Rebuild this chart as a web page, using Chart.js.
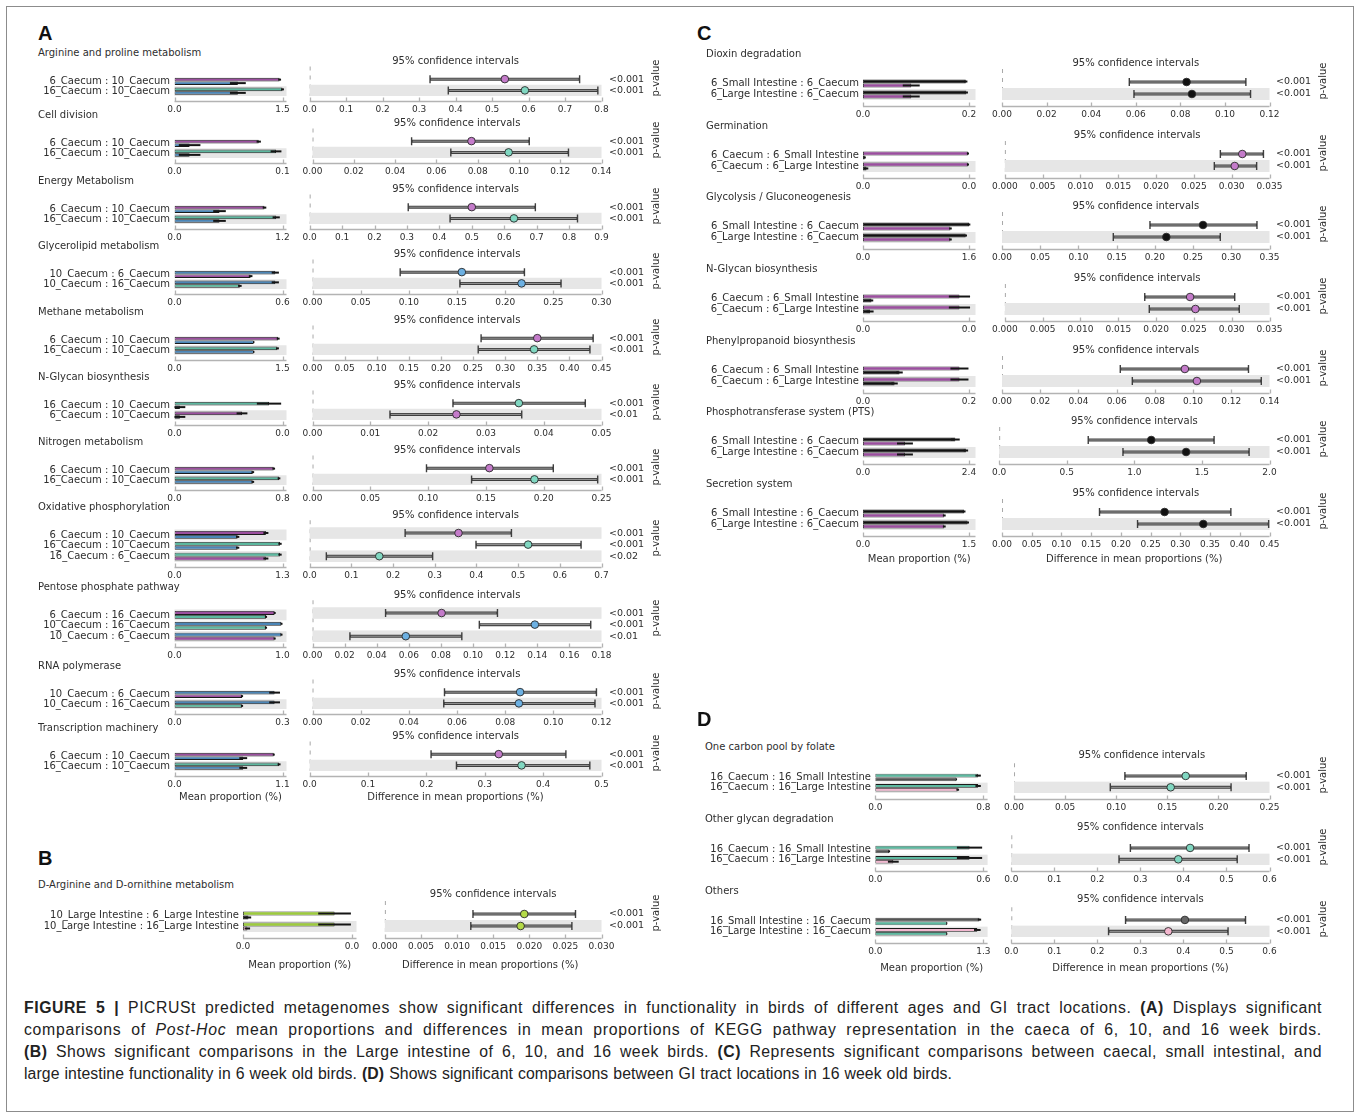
<!DOCTYPE html>
<html>
<head>
<meta charset="utf-8">
<script src="https://cdn.jsdelivr.net/npm/chart.js@4.4.1/dist/chart.umd.min.js"></script>
<style>
  body { margin: 0; background: #fff; }
  #fig { position: relative; width: 1360px; height: 1118px; overflow: hidden; font-family: "DejaVu Sans", sans-serif; color: #2e2e2e; }
  #fig canvas { position: absolute; }
  .t { position: absolute; white-space: nowrap; line-height: 14px; }
  .sub { font-size: 10px; }
  .letter { font-family: "Liberation Sans Narrow", "Liberation Sans", sans-serif; font-weight: bold; font-size: 20px; color: #111; line-height: 20px; }
  .axname { font-size: 10px; transform: translateX(-50%); }
  .pv { font-size: 10px; transform: translate(-50%, -50%) rotate(-90deg); }
  #frame { position: absolute; left: 6px; top: 6px; width: 1346px; height: 1104px; border: 1.5px solid #8c8c8c; }
  .cap { position: absolute; left: 24px; font-family: "Liberation Sans", sans-serif; font-size: 15.8px; line-height: 22px; color: #222; white-space: nowrap; }
</style>
</head>
<body>
<div id="fig">
  <div id="frame"></div>
  <div class="cap" data-w="1298" style="top:997px"><b>FIGURE 5 |</b> PICRUSt predicted metagenomes show significant differences in functionality in birds of different ages and GI tract locations. <b>(A)</b> Displays significant</div>
  <div class="cap" data-w="1298" style="top:1019px">comparisons of <i>Post-Hoc</i> mean proportions and differences in mean proportions of KEGG pathway representation in the caeca of 6, 10, and 16 week birds.</div>
  <div class="cap" data-w="1298" style="top:1041px"><b>(B)</b> Shows significant comparisons in the Large intestine of 6, 10, and 16 week birds. <b>(C)</b> Represents significant comparisons between caecal, small intestinal, and</div>
  <div class="cap" data-w="928" style="top:1063px">large intestine functionality in 6 week old birds. <b>(D)</b> Shows significant comparisons between GI tract locations in 16 week old birds.</div>
</div>
<script>
// ---------- A: caeca of 6, 10 and 16 week birds ----------
const A_TITLES = ['Arginine and proline metabolism', 'Cell division', 'Energy Metabolism', 'Glycerolipid metabolism',
  'Methane metabolism', 'N-Glycan biosynthesis', 'Nitrogen metabolism', 'Oxidative phosphorylation',
  'Pentose phosphate pathway', 'RNA polymerase', 'Transcription machinery'];
const A_ROWS = [
  ['6_Caecum : 10_Caecum', '16_Caecum : 10_Caecum'],
  ['6_Caecum : 10_Caecum', '16_Caecum : 10_Caecum'],
  ['6_Caecum : 10_Caecum', '16_Caecum : 10_Caecum'],
  ['10_Caecum : 6_Caecum', '10_Caecum : 16_Caecum'],
  ['6_Caecum : 10_Caecum', '16_Caecum : 10_Caecum'],
  ['16_Caecum : 10_Caecum', '6_Caecum : 10_Caecum'],
  ['6_Caecum : 10_Caecum', '16_Caecum : 10_Caecum'],
  ['6_Caecum : 10_Caecum', '16_Caecum : 10_Caecum', '16_Caecum : 6_Caecum'],
  ['6_Caecum : 16_Caecum', '10_Caecum : 16_Caecum', '10_Caecum : 6_Caecum'],
  ['10_Caecum : 6_Caecum', '10_Caecum : 16_Caecum'],
  ['6_Caecum : 10_Caecum', '16_Caecum : 10_Caecum']
];
// mean proportion (%) and sd of the first and second group of each comparison
const A_MEAN1 = [[1.46, 1.5], [0.078, 0.094], [1.0, 1.13], [0.56, 0.56], [1.44, 1.43], [0.035, 0.025],
  [0.735, 0.774], [1.1, 1.27, 1.27], [0.927, 0.99, 0.99], [0.278, 0.278], [1.011, 1.065]];
const A_SD1 = [[0.02, 0.02], [0.002, 0.005], [0.02, 0.04], [0.02, 0.02], [0.02, 0.02], [0.0045, 0.002],
  [0.01, 0.01], [0.03, 0.02, 0.02], [0.01, 0.01, 0.01], [0.015, 0.015], [0.01, 0.015]];
const A_MEAN2 = [[0.88, 0.88], [0.014, 0.014], [0.5, 0.5], [0.423, 0.363], [1.1, 1.1], [0.002, 0.002],
  [0.58, 0.58], [0.76, 0.76, 1.1], [0.847, 0.847, 0.927], [0.1875, 0.1875], [0.70, 0.70]];
const A_SD2 = [[0.11, 0.11], [0.01, 0.01], [0.07, 0.07], [0.01, 0.01], [0.01, 0.01], [0.002, 0.002],
  [0.01, 0.01], [0.02, 0.02, 0.03], [0.01, 0.01, 0.01], [0.003, 0.003], [0.04, 0.04]];
// difference in mean proportions with 95% confidence interval
const A_DIFF = [[0.535, 0.59], [0.077, 0.095], [0.5, 0.63], [0.155, 0.217], [0.35, 0.345], [0.0357, 0.0249],
  [0.153, 0.192], [0.357, 0.524, 0.167], [0.0804, 0.1385, 0.0581], [0.0862, 0.0857], [0.324, 0.363]];
const A_LO = [[0.33, 0.38], [0.048, 0.067], [0.304, 0.433], [0.091, 0.153], [0.2625, 0.258], [0.0243, 0.0134],
  [0.0986, 0.1376], [0.229, 0.399, 0.04], [0.0455, 0.1039, 0.0233], [0.0548, 0.0545], [0.208, 0.2515]];
const A_HI = [[0.74, 0.79], [0.105, 0.124], [0.696, 0.826], [0.22, 0.258], [0.437, 0.432], [0.0472, 0.0362],
  [0.2083, 0.2467], [0.484, 0.651, 0.295], [0.1152, 0.1733, 0.093], [0.1179, 0.1173], [0.439, 0.48]];
const A_P = [['<0.001', '<0.001'], ['<0.001', '<0.001'], ['<0.001', '<0.001'], ['<0.001', '<0.001'],
  ['<0.001', '<0.001'], ['<0.001', '<0.01'], ['<0.001', '<0.001'], ['<0.001', '<0.001', '<0.02'],
  ['<0.001', '<0.001', '<0.01'], ['<0.001', '<0.001'], ['<0.001', '<0.001']];
const A_BAR_TICK = [1.5, 0.1, 1.2, 0.6, 1.5, 0.04, 0.8, 1.3, 1.0, 0.3, 1.1];
const A_CI_MAX = [0.8, 0.14, 0.9, 0.3, 0.45, 0.05, 0.25, 0.7, 0.18, 0.12, 0.5];
const A_CI_STEP = [0.1, 0.02, 0.1, 0.05, 0.05, 0.01, 0.05, 0.1, 0.02, 0.02, 0.1];

// ---------- B: large intestine ----------
const B_TITLES = ['D-Arginine and D-ornithine metabolism'];
const B_ROWS = [['10_Large Intestine : 6_Large Intestine', '10_Large Intestine : 16_Large Intestine']];
const B_MEAN1 = [[0.0168, 0.0168]];
const B_SD1 = [[0.003, 0.003]];
const B_MEAN2 = [[0.001, 0.0008]];
const B_SD2 = [[0.0005, 0.0005]];
const B_DIFF = [[0.0193, 0.0188]];
const B_LO = [[0.0122, 0.0119]];
const B_HI = [[0.0264, 0.0259]];
const B_P = [['<0.001', '<0.001']];
const B_BAR_TICK = [0.02];
const B_CI_MAX = [0.03];
const B_CI_STEP = [0.005];

// ---------- C: 6 week birds, caecum vs small / large intestine ----------
const C_TITLES = ['Dioxin degradation', 'Germination', 'Glycolysis / Gluconeogenesis', 'N-Glycan biosynthesis',
  'Phenylpropanoid biosynthesis', 'Phosphotransferase system (PTS)', 'Secretion system'];
const C_ROWS = [
  ['6_Small Intestine : 6_Caecum', '6_Large Intestine : 6_Caecum'],
  ['6_Caecum : 6_Small Intestine', '6_Caecum : 6_Large Intestine'],
  ['6_Small Intestine : 6_Caecum', '6_Large Intestine : 6_Caecum'],
  ['6_Caecum : 6_Small Intestine', '6_Caecum : 6_Large Intestine'],
  ['6_Caecum : 6_Small Intestine', '6_Caecum : 6_Large Intestine'],
  ['6_Small Intestine : 6_Caecum', '6_Large Intestine : 6_Caecum'],
  ['6_Small Intestine : 6_Caecum', '6_Large Intestine : 6_Caecum']
];
const C_MEAN1 = [[0.194, 0.195], [0.0297, 0.0297], [1.6, 1.55], [0.0273, 0.0273], [0.182, 0.182], [2.09, 2.33], [1.43, 1.48]];
const C_SD1 = [[0.003, 0.003], [0.0003, 0.0003], [0.02, 0.02], [0.003, 0.003], [0.017, 0.017], [0.1, 0.05], [0.02, 0.02]];
const C_MEAN2 = [[0.091, 0.091], [0.0005, 0.001], [1.32, 1.32], [0.0024, 0.002], [0.069, 0.0596], [0.95, 0.95], [1.15, 1.15]];
const C_SD2 = [[0.016, 0.016], [0.0003, 0.0005], [0.02, 0.02], [0.0005, 0.001], [0.006, 0.006], [0.18, 0.18], [0.02, 0.02]];
const C_DIFF = [[0.0828, 0.0852], [0.0314, 0.0304], [0.263, 0.215], [0.0245, 0.0252], [0.0957, 0.102], [1.125, 1.383], [0.2735, 0.3386]];
const C_LO = [[0.0571, 0.0592], [0.0285, 0.0277], [0.1936, 0.1456], [0.0185, 0.0191], [0.0619, 0.0682], [0.659, 0.916], [0.164, 0.228]];
const C_HI = [[0.1094, 0.1115], [0.0342, 0.0333], [0.3336, 0.2856], [0.0304, 0.031], [0.129, 0.1357], [1.59, 1.849], [0.385, 0.4486]];
const C_P = C_ROWS.map(r => r.map(() => '<0.001'));
const C_BAR_TICK = [0.2, 0.03, 1.6, 0.03, 0.2, 2.4, 1.5];
const C_CI_MAX = [0.12, 0.035, 0.35, 0.035, 0.14, 2.0, 0.45];
const C_CI_STEP = [0.02, 0.005, 0.05, 0.005, 0.02, 0.5, 0.05];

// ---------- D: 16 week birds, GI tract locations ----------
const D_TITLES = ['One carbon pool by folate', 'Other glycan degradation', 'Others'];
const D_ROWS = [
  ['16_Caecum : 16_Small Intestine', '16_Caecum : 16_Large Intestine'],
  ['16_Caecum : 16_Small Intestine', '16_Caecum : 16_Large Intestine'],
  ['16_Small Intestine : 16_Caecum', '16_Large Intestine : 16_Caecum']
];
const D_MEAN1 = [[0.761, 0.761], [0.523, 0.523], [1.253, 1.227]];
const D_SD1 = [[0.02, 0.02], [0.07, 0.07], [0.02, 0.04]];
const D_MEAN2 = [[0.6, 0.61], [0.077, 0.1], [0.861, 0.861]];
const D_SD2 = [[0.005, 0.01], [0.005, 0.03], [0.005, 0.005]];
const D_DIFF = [[0.168, 0.1533], [0.4155, 0.388], [0.4034, 0.3649]];
const D_LO = [[0.1085, 0.0942], [0.2767, 0.2503], [0.2655, 0.226]];
const D_HI = [[0.2272, 0.2124], [0.5524, 0.525], [0.5443, 0.5037]];
const D_P = D_ROWS.map(r => r.map(() => '<0.001'));
const D_BAR_TICK = [0.8, 0.6, 1.3];
const D_CI_MAX = [0.25, 0.6, 0.6];
const D_CI_STEP = [0.05, 0.1, 0.1];

// group colours: bars and CI dots
const BAR_COL = {
  '6_Caecum': '#9b4f9f', '10_Caecum': '#4b86b7', '16_Caecum': '#5cb89f',
  '6_Small Intestine': '#111111', '6_Large Intestine': '#111111',
  '10_Large Intestine': '#9dcb3d', '16_Large Intestine': '#f2b8d0', '16_Small Intestine': '#555555'
};
const DOT_COL = {
  '6_Caecum': '#c47bca', '10_Caecum': '#6cb0e2', '16_Caecum': '#80d7c1',
  '6_Small Intestine': '#111111', '6_Large Intestine': '#111111',
  '10_Large Intestine': '#b4da48', '16_Large Intestine': '#f4b7cf', '16_Small Intestine': '#666666'
};

Chart.defaults.font.family = '"DejaVu Sans", sans-serif';
Chart.defaults.color = '#2e2e2e';

const fig = document.getElementById('fig');
const AXH = 28;

// spread each caption line over its measure: half by letters, half by word gaps
document.querySelectorAll('.cap').forEach(el => {
  const target = +el.dataset.w;
  const extra = target - el.getBoundingClientRect().width;
  const txt = el.textContent.trim();
  const gaps = (txt.match(/ /g) || []).length;
  el.style.letterSpacing = (extra * 0.5 / txt.length) + 'px';
  el.style.wordSpacing = (extra * 0.5 / Math.max(gaps, 1)) + 'px';
});

// alternating grey row bands, the bottom row is always shaded
const rowShade = {
  id: 'rowShade',
  beforeDatasetsDraw(chart, args, opts) {
    const { ctx, chartArea: a } = chart;
    const h = a.height / opts.n;
    ctx.save();
    if (opts.zero) {
      const x0 = chart.scales.x.getPixelForValue(0);
      ctx.strokeStyle = '#a8a8a8';
      ctx.setLineDash([4, 5]);
      ctx.beginPath();
      ctx.moveTo(x0 + 0.5, a.top - 7);
      ctx.lineTo(x0 + 0.5, a.bottom);
      ctx.stroke();
      ctx.setLineDash([]);
    }
    ctx.fillStyle = '#e6e6e6';
    for (let i = 0; i < opts.n; i++) {
      if ((opts.n - 1 - i) % 2 === 0) ctx.fillRect(a.left, a.top + i * h, a.width, h);
    }
    ctx.restore();
  }
};

// bottom spine set a few pixels below the plot, ticks pointing up
const spine = {
  id: 'spine',
  afterDraw(chart, args, opts) {
    const { ctx, chartArea: a, scales: { x } } = chart;
    const y = Math.round(a.bottom + opts.gap) + 0.5;
    ctx.save();
    ctx.strokeStyle = '#b3b3b3';
    ctx.lineWidth = 1.3;
    ctx.beginPath();
    ctx.moveTo(a.left, y);
    ctx.lineTo(a.right, y);
    x.ticks.forEach(t => {
      const px = Math.round(x.getPixelForValue(t.value)) + 0.5;
      ctx.moveTo(px, y);
      ctx.lineTo(px, y - 4);
    });
    ctx.stroke();
    ctx.restore();
  }
};

// standard deviation lines on the mean proportion bars
const sdLines = {
  id: 'sdLines',
  afterDatasetsDraw(chart) {
    const { ctx, scales: { x } } = chart;
    ctx.save();
    ctx.strokeStyle = '#151515';
    ctx.lineWidth = 2;
    chart.data.datasets.forEach((ds, di) => {
      chart.getDatasetMeta(di).data.forEach((bar, i) => {
        const m = ds.data[i], s = ds.sd[i];
        ctx.beginPath();
        ctx.moveTo(x.getPixelForValue(Math.max(0, m - s)), bar.y);
        ctx.lineTo(x.getPixelForValue(m + s), bar.y);
        ctx.stroke();
      });
    });
    ctx.restore();
  }
};

// 95% CI whiskers behind the difference points
const whiskers = {
  id: 'whiskers',
  beforeDatasetsDraw(chart) {
    const { ctx, scales: { x, y } } = chart;
    const ds = chart.data.datasets[0];
    ctx.save();
    ds.lo.forEach((lo, i) => {
      const py = y.getPixelForValue(i);
      const x1 = x.getPixelForValue(lo), x2 = x.getPixelForValue(ds.hi[i]);
      ctx.strokeStyle = '#3e3e3e';
      ctx.lineWidth = 3;
      ctx.beginPath(); ctx.moveTo(x1, py); ctx.lineTo(x2, py); ctx.stroke();
      ctx.strokeStyle = '#9c9c9c';
      ctx.lineWidth = 1;
      ctx.beginPath(); ctx.moveTo(x1 + 1, py); ctx.lineTo(x2 - 1, py); ctx.stroke();
      ctx.strokeStyle = '#3e3e3e';
      ctx.lineWidth = 1.4;
      ctx.beginPath();
      ctx.moveTo(x1, py - 4); ctx.lineTo(x1, py + 4);
      ctx.moveTo(x2, py - 4); ctx.lineTo(x2, py + 4);
      ctx.stroke();
    });
    ctx.restore();
  }
};

function text(html, x, y, cls) {
  const el = document.createElement('div');
  el.className = 't ' + cls;
  el.innerHTML = html;
  el.style.left = x + 'px';
  el.style.top = y + 'px';
  fig.appendChild(el);
  return el;
}

function canvasAt(x, y, w, h) {
  const c = document.createElement('canvas');
  c.width = w; c.height = h;
  c.style.left = x + 'px'; c.style.top = y + 'px';
  c.style.width = w + 'px'; c.style.height = h + 'px';
  fig.appendChild(c);
  return c;
}

function decimals(step) {
  const s = String(step);
  return s.includes('.') ? s.split('.')[1].length : 0;
}

const hideGrid = { display: false, drawTicks: false };

function subpanel(col, lay, d) {
  const n = d.rows.length;
  const band = lay.band(n);
  const bandTop = lay.row1 - band / 2;
  const groups = d.rows.map(r => r.split(' : '));

  text(d.title, col.titleX, lay.title - 7, 'sub');

  // mean proportion bars
  const bx = Math.round(col.titleX - 12);
  const by = Math.round(bandTop - 8);
  const bw = Math.round(col.barEnd + 12 - bx);
  const bh = Math.round(bandTop - by + n * band + AXH);
  const barMax = d.barTick * (col.barEnd - col.bar0) / (col.barTickPx - col.bar0);
  new Chart(canvasAt(bx, by, bw, bh), {
    type: 'bar',
    data: {
      labels: d.rows,
      datasets: [
        { data: d.m1, sd: d.s1, backgroundColor: groups.map(g => BAR_COL[g[0]]) },
        { data: d.m2, sd: d.s2, backgroundColor: groups.map(g => BAR_COL[g[1]]) }
      ]
    },
    options: {
      responsive: false, animation: false, indexAxis: 'y',
      layout: { padding: { top: bandTop - by, right: bw - (col.barEnd - bx), left: 0, bottom: 0 } },
      datasets: { bar: { borderColor: '#1b1b1b', borderWidth: 0.8, borderSkipped: false, categoryPercentage: 0.72, barPercentage: 1 } },
      plugins: { legend: { display: false }, tooltip: { enabled: false }, rowShade: { n }, spine: { gap: lay.gap } },
      scales: {
        y: {
          grid: hideGrid, border: { display: false },
          ticks: { autoSkip: false, font: { size: 10 }, padding: col.bar0 - col.labelRight },
          afterFit: s => { s.width = col.bar0 - bx; }
        },
        x: {
          min: 0, max: barMax, bounds: 'data', grid: hideGrid, border: { display: false },
          afterBuildTicks: s => { s.ticks = [{ value: 0 }, { value: d.barTick }]; },
          ticks: { autoSkip: false, maxRotation: 0, padding: lay.pad, font: { size: 9 }, callback: v => Number(v).toFixed(1) },
          afterFit: s => { s.height = AXH; }
        }
      }
    },
    plugins: [rowShade, sdLines, spine]
  });

  // difference in mean proportions with 95% CI
  const cx = Math.round(col.ci0 - 16);
  const cy = Math.round(lay.ciTitle - 8);
  const cw = Math.round(col.pvalX - 8 - cx);
  const areaTop = bandTop - cy;
  const ch = Math.round(areaTop + n * band + AXH);
  const dec = decimals(d.ciStep);
  const ticks = [];
  for (let i = 0; i <= Math.round(d.ciMax / d.ciStep); i++) ticks.push({ value: +(i * d.ciStep).toFixed(6) });
  new Chart(canvasAt(cx, cy, cw, ch), {
    type: 'scatter',
    data: {
      datasets: [{
        data: d.diff.map((v, i) => ({ x: v, y: i })),
        lo: d.lo, hi: d.hi,
        pointRadius: 3.8,
        pointBackgroundColor: groups.map(g => DOT_COL[g[0]]),
        pointBorderColor: '#2a2a2a', pointBorderWidth: 0.9,
        xAxisID: 'x', yAxisID: 'y'
      }]
    },
    options: {
      responsive: false, animation: false,
      layout: { padding: { left: col.ci0 - cx, top: 2, right: 0, bottom: 0 } },
      plugins: {
        legend: { display: false }, tooltip: { enabled: false },
        title: {
          display: true, fullSize: false, text: '95% confidence intervals',
          font: { size: 10, weight: 'normal' }, color: '#2e2e2e',
          padding: { top: 0, bottom: areaTop - 14 }
        },
        rowShade: { n, zero: true }, spine: { gap: lay.gap }
      },
      scales: {
        x: {
          type: 'linear', min: 0, max: d.ciMax, bounds: 'data', grid: hideGrid, border: { display: false },
          afterBuildTicks: s => { s.ticks = ticks.map(t => ({ value: t.value })); },
          ticks: { autoSkip: false, maxRotation: 0, padding: lay.pad, font: { size: 9 }, callback: v => Number(v).toFixed(dec) },
          afterFit: s => { s.height = AXH; }
        },
        y: { type: 'linear', min: -0.5, max: n - 0.5, reverse: true, display: false },
        p: {
          type: 'category', axis: 'y', position: 'right', labels: d.p, offset: true,
          grid: hideGrid, border: { display: false },
          ticks: { autoSkip: false, font: { size: 9.5 }, padding: col.pLeft - col.ciEnd },
          afterFit: s => { s.width = cw - (col.ciEnd - cx); }
        }
      }
    },
    plugins: [rowShade, whiskers, spine]
  });

  text('p-value', col.pvalX, bandTop + n * band / 2 - 7, 'pv');
}

function panel(letter, col, lay, arr) {
  text(letter, col.letterX, lay.letterY - 10, 'letter');
  arr.titles.forEach((title, k) => {
    const ty = lay.titles[k];
    subpanel(col, {
      title: ty, ciTitle: ty + lay.ciOff, row1: ty + lay.rowOff,
      band: lay.band, gap: lay.gap, pad: lay.pad
    }, {
      title, rows: arr.rows[k], m1: arr.m1[k], s1: arr.s1[k], m2: arr.m2[k], s2: arr.s2[k],
      diff: arr.diff[k], lo: arr.lo[k], hi: arr.hi[k], p: arr.p[k],
      barTick: arr.barTick[k], ciMax: arr.ciMax[k], ciStep: arr.ciStep[k]
    });
  });
  text('Mean proportion (%)', (col.bar0 + col.barEnd) / 2, lay.axisY - 7, 'axname');
  text('Difference in mean proportions (%)', (col.ci0 + col.ciEnd) / 2, lay.axisY - 7, 'axname');
}

panel('A',
  { letterX: 38, titleX: 38, labelRight: 170, bar0: 174.5, barTickPx: 282.5, barEnd: 286.5, ci0: 309.5, ciEnd: 601.5, pLeft: 609, pvalX: 656 },
  { letterY: 33, titles: [53, 115, 181, 246, 312, 377, 442, 507, 587, 666, 728], ciOff: 8, rowOff: 26,
    band: n => (n === 3 ? 11.5 : 11), gap: 4.5, pad: 8.5, axisY: 797 },
  { titles: A_TITLES, rows: A_ROWS, m1: A_MEAN1, s1: A_SD1, m2: A_MEAN2, s2: A_SD2, diff: A_DIFF, lo: A_LO, hi: A_HI,
    p: A_P, barTick: A_BAR_TICK, ciMax: A_CI_MAX, ciStep: A_CI_STEP });

panel('B',
  { letterX: 38, titleX: 38, labelRight: 239, bar0: 243, barTickPx: 352, barEnd: 356.5, ci0: 379, ciEnd: 601.5, pLeft: 609, pvalX: 656 },
  { letterY: 858, titles: [885], ciOff: 9, rowOff: 29, band: () => 12, gap: 5.5, pad: 9, axisY: 965 },
  { titles: B_TITLES, rows: B_ROWS, m1: B_MEAN1, s1: B_SD1, m2: B_MEAN2, s2: B_SD2, diff: B_DIFF, lo: B_LO, hi: B_HI,
    p: B_P, barTick: B_BAR_TICK, ciMax: B_CI_MAX, ciStep: B_CI_STEP });

panel('C',
  { letterX: 697, titleX: 706, labelRight: 859, bar0: 863, barTickPx: 969, barEnd: 975.5, ci0: 999, ciEnd: 1269.5, pLeft: 1276, pvalX: 1323 },
  { letterY: 33, titles: [54, 126, 197, 269, 341, 412, 484], ciOff: 9, rowOff: 28, band: () => 12, gap: 5.5, pad: 9, axisY: 559 },
  { titles: C_TITLES, rows: C_ROWS, m1: C_MEAN1, s1: C_SD1, m2: C_MEAN2, s2: C_SD2, diff: C_DIFF, lo: C_LO, hi: C_HI,
    p: C_P, barTick: C_BAR_TICK, ciMax: C_CI_MAX, ciStep: C_CI_STEP });

panel('D',
  { letterX: 697, titleX: 705, labelRight: 871, bar0: 875.3, barTickPx: 983.8, barEnd: 988, ci0: 1011.3, ciEnd: 1269.5, pLeft: 1276, pvalX: 1323 },
  { letterY: 719, titles: [747, 819, 891], ciOff: 8, rowOff: 29, band: () => 11.5, gap: 5.5, pad: 9, axisY: 968 },
  { titles: D_TITLES, rows: D_ROWS, m1: D_MEAN1, s1: D_SD1, m2: D_MEAN2, s2: D_SD2, diff: D_DIFF, lo: D_LO, hi: D_HI,
    p: D_P, barTick: D_BAR_TICK, ciMax: D_CI_MAX, ciStep: D_CI_STEP });
</script>
</body>
</html>
